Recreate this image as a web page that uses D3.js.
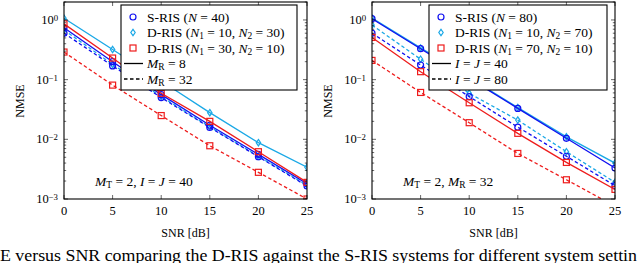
<!DOCTYPE html>
<html>
<head>
<meta charset="utf-8">
<script src="https://cdn.jsdelivr.net/npm/d3@7"></script>
<style>
body { margin: 0; background: #fff; }
svg { display: block; }
</style>
</head>
<body>
<div id="chart"></div>
<script>
// ---- data ----
var snr = [0, 5, 10, 15, 20, 25];
var xTicks = [0, 5, 10, 15, 20, 25];
var yTicks = [1e-3, 1e-2, 1e-1, 1];
var yTickExp = ["\u22123", "\u22122", "\u22121", "0"];

// left panel: M_T = 2, I = J = 40
var leftSris8 = [0.74, 0.20, 0.056, 0.0172, 0.0056, 0.0018];
var leftSris32 = [0.60, 0.17, 0.050, 0.0158, 0.0051, 0.00165];
var leftDris1030m8 = [1.07, 0.32, 0.095, 0.028, 0.0088, 0.0034];
var leftDris1030m32 = [0.68, 0.18, 0.052, 0.0162, 0.0052, 0.0017];
var leftDris3010m8 = [0.86, 0.23, 0.059, 0.020, 0.0062, 0.0019];
var leftDris3010m32 = [0.29, 0.081, 0.025, 0.0078, 0.0028, 0.0010];

// right panel: M_T = 2, M_R = 32
var rightSris40 = [1.05, 0.33, 0.105, 0.033, 0.0104, 0.0033];
var rightSris80 = [0.60, 0.176, 0.052, 0.016, 0.0052, 0.00167];
var rightDris1070ij40 = [1.08, 0.34, 0.108, 0.034, 0.011, 0.0040];
var rightDris1070ij80 = [0.82, 0.22, 0.059, 0.021, 0.0062, 0.0019];
var rightDris7010ij40 = [0.51, 0.136, 0.041, 0.0126, 0.0041, 0.00145];
var rightDris7010ij80 = [0.21, 0.061, 0.019, 0.0058, 0.0021, 0.00076];

var blue = "#1010f0",
	cyan = "#1aa8e6",
	red = "#ee1c1c";

var W = 640, H = 263;
var font = "'Liberation Serif', 'DejaVu Serif', serif";

var svg = d3.select("#chart").append("svg")
	.attr("width", W)
	.attr("height", H)
	.style("font-family", font);

// write rich text: parts are [text, "i" italic | "s" subscript | "p" superscript | ""]
function rich(sel, parts) {
	parts.forEach(function(p) {
		var t = sel.append("tspan").text(p[0]);
		if (p[1] === "i") t.style("font-style", "italic");
		if (p[1] === "s") t.attr("baseline-shift", "-22%").style("font-size", "70%");
		if (p[1] === "p") t.attr("baseline-shift", "38%").style("font-size", "70%");
	});
	return sel;
}

function marker(g, type, x, y, color) {
	if (type === "circle") {
		g.append("circle").attr("cx", x).attr("cy", y).attr("r", 3)
			.attr("fill", "none").attr("stroke", color).attr("stroke-width", 1.2);
	} else if (type === "diamond") {
		g.append("path")
			.attr("d", "M" + x + "," + (y - 3.2) + "L" + (x + 2.2) + "," + y + "L" + x + "," + (y + 3.2) + "L" + (x - 2.2) + "," + y + "Z")
			.attr("fill", "none").attr("stroke", color).attr("stroke-width", 1.2);
	} else {
		g.append("rect").attr("x", x - 3).attr("y", y - 3).attr("width", 6).attr("height", 6)
			.attr("fill", "none").attr("stroke", color).attr("stroke-width", 1.2);
	}
}

function drawPanel(opt) {
	var x = d3.scaleLinear().domain([0, 25]).range([opt.left, opt.right]);
	var y = d3.scaleLog().domain([1e-3, 2]).range([199, 2]);
	var g = svg.append("g");

	var clipId = "clip" + opt.id;
	svg.append("defs").append("clipPath").attr("id", clipId)
		.append("rect").attr("x", opt.left).attr("y", 2)
		.attr("width", opt.right - opt.left).attr("height", 197);

	var plot = g.append("g").attr("clip-path", "url(#" + clipId + ")");
	var line = d3.line().x(function(d, i) { return x(snr[i]); }).y(function(d) { return y(d); });

	opt.series.forEach(function(s) {
		plot.append("path")
			.datum(s.values)
			.attr("d", line)
			.attr("fill", "none")
			.attr("stroke", s.color)
			.attr("stroke-width", 1.3)
			.attr("stroke-dasharray", s.dash ? "3.5,2.5" : null);
		s.values.forEach(function(v, i) {
			marker(plot, s.marker, x(snr[i]), y(v), s.color);
		});
	});

	// minor + major ticks, both sides, pointing inward
	var minors = [];
	for (var e = -3; e <= 0; e++) {
		for (var m = 2; m <= 9; m++) {
			var v = m * Math.pow(10, e);
			if (v <= 2) minors.push(v);
		}
	}
	var axisG = g.append("g").attr("stroke", "#000").attr("stroke-width", 0.6);
	minors.forEach(function(v) {
		axisG.append("line").attr("x1", opt.left).attr("x2", opt.left + 2.2).attr("y1", y(v)).attr("y2", y(v));
		axisG.append("line").attr("x1", opt.right).attr("x2", opt.right - 2.2).attr("y1", y(v)).attr("y2", y(v));
	});
	yTicks.forEach(function(v) {
		axisG.append("line").attr("x1", opt.left).attr("x2", opt.left + 4).attr("y1", y(v)).attr("y2", y(v));
		axisG.append("line").attr("x1", opt.right).attr("x2", opt.right - 4).attr("y1", y(v)).attr("y2", y(v));
	});
	xTicks.forEach(function(v) {
		axisG.append("line").attr("x1", x(v)).attr("x2", x(v)).attr("y1", 199).attr("y2", 195);
		axisG.append("line").attr("x1", x(v)).attr("x2", x(v)).attr("y1", 2).attr("y2", 6);
	});

	g.append("rect")
		.attr("x", opt.left).attr("y", 2)
		.attr("width", opt.right - opt.left).attr("height", 197)
		.attr("fill", "none").attr("stroke", "#000").attr("stroke-width", 1.1);

	// tick labels
	xTicks.forEach(function(v) {
		g.append("text").attr("x", x(v)).attr("y", 215)
			.attr("text-anchor", "middle").style("font-size", "12.5px").text(v);
	});
	yTicks.forEach(function(v, i) {
		rich(g.append("text").attr("x", opt.left - 6).attr("y", y(v) + 4)
			.attr("text-anchor", "end").style("font-size", "12.5px"),
			[["10", ""], [yTickExp[i], "p"]]);
	});

	g.append("text").attr("x", (opt.left + opt.right) / 2).attr("y", 237)
		.attr("text-anchor", "middle").style("font-size", "12px").text("SNR [dB]");
	g.append("text")
		.attr("transform", "translate(" + (opt.left - 40) + ",101) rotate(-90)")
		.attr("text-anchor", "middle").style("font-size", "12px").text("NMSE");

	rich(g.append("text").attr("x", opt.noteX).attr("y", 186).style("font-size", "13.5px"), opt.note);

	// legend
	var lg = g.append("g");
	lg.append("rect")
		.attr("x", opt.legX).attr("y", 5)
		.attr("width", opt.legW).attr("height", 85)
		.attr("fill", "#fff").attr("stroke", "#000").attr("stroke-width", 1.1);
	opt.legend.forEach(function(item, i) {
		var cy = 17 + i * 15.5;
		if (item.marker) {
			marker(lg, item.marker, opt.legX + 12, cy, item.color);
		} else {
			lg.append("line")
				.attr("x1", opt.legX + 3).attr("x2", opt.legX + 22)
				.attr("y1", cy).attr("y2", cy)
				.attr("stroke", "#000").attr("stroke-width", 1.3)
				.attr("stroke-dasharray", item.dash ? "3.5,2.5" : null);
		}
		rich(lg.append("text").attr("x", opt.legX + 26).attr("y", cy + 4.5).style("font-size", "13.5px"), item.label);
	});
}

drawPanel({
	id: "L", left: 64, right: 307,
	legX: 121, legW: 176,
	noteX: 95,
	note: [["M", "i"], ["T", "s"], [" = 2, ", ""], ["I", "i"], [" = ", ""], ["J", "i"], [" = 40", ""]],
	series: [
		{ values: leftDris1030m8, color: cyan, marker: "diamond", dash: false },
		{ values: leftDris1030m32, color: cyan, marker: "diamond", dash: true },
		{ values: leftSris8, color: blue, marker: "circle", dash: false },
		{ values: leftSris32, color: blue, marker: "circle", dash: true },
		{ values: leftDris3010m8, color: red, marker: "square", dash: false },
		{ values: leftDris3010m32, color: red, marker: "square", dash: true }
	],
	legend: [
		{ marker: "circle", color: blue, label: [["S-RIS (", ""], ["N", "i"], [" = 40)", ""]] },
		{ marker: "diamond", color: cyan, label: [["D-RIS (", ""], ["N", "i"], ["1", "s"], [" = 10, ", ""], ["N", "i"], ["2", "s"], [" = 30)", ""]] },
		{ marker: "square", color: red, label: [["D-RIS (", ""], ["N", "i"], ["1", "s"], [" = 30, ", ""], ["N", "i"], ["2", "s"], [" = 10)", ""]] },
		{ dash: false, label: [["M", "i"], ["R", "s"], [" = 8", ""]] },
		{ dash: true, label: [["M", "i"], ["R", "s"], [" = 32", ""]] }
	]
});

drawPanel({
	id: "R", left: 372, right: 615,
	legX: 429, legW: 178,
	noteX: 403,
	note: [["M", "i"], ["T", "s"], [" = 2, ", ""], ["M", "i"], ["R", "s"], [" = 32", ""]],
	series: [
		{ values: rightDris1070ij40, color: cyan, marker: "diamond", dash: false },
		{ values: rightDris1070ij80, color: cyan, marker: "diamond", dash: true },
		{ values: rightSris40, color: blue, marker: "circle", dash: false },
		{ values: rightSris80, color: blue, marker: "circle", dash: true },
		{ values: rightDris7010ij40, color: red, marker: "square", dash: false },
		{ values: rightDris7010ij80, color: red, marker: "square", dash: true }
	],
	legend: [
		{ marker: "circle", color: blue, label: [["S-RIS (", ""], ["N", "i"], [" = 80)", ""]] },
		{ marker: "diamond", color: cyan, label: [["D-RIS (", ""], ["N", "i"], ["1", "s"], [" = 10, ", ""], ["N", "i"], ["2", "s"], [" = 70)", ""]] },
		{ marker: "square", color: red, label: [["D-RIS (", ""], ["N", "i"], ["1", "s"], [" = 70, ", ""], ["N", "i"], ["2", "s"], [" = 10)", ""]] },
		{ dash: false, label: [["I", "i"], [" = ", ""], ["J", "i"], [" = 40", ""]] },
		{ dash: true, label: [["I", "i"], [" = ", ""], ["J", "i"], [" = 80", ""]] }
	]
});

// clipped caption line under the figure
svg.append("text")
	.attr("x", 0).attr("y", 261)
	.attr("textLength", 637)
	.attr("lengthAdjust", "spacingAndGlyphs")
	.style("font-size", "16px")
	.text("E versus SNR comparing the D-RIS against the S-RIS systems for different system settin");
</script>
</body>
</html>
